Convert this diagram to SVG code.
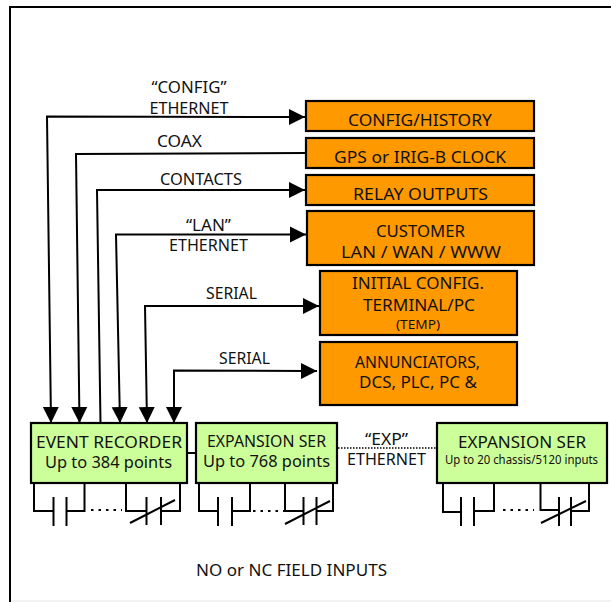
<svg xmlns="http://www.w3.org/2000/svg" width="611" height="602" viewBox="0 0 611 602">
<style>
text{font-family:"Noto Sans","DejaVu Sans",sans-serif;font-size:17px;fill:#111;text-anchor:middle}
.s{font-size:12.500px}
.o{fill:#ff9900;stroke:#000;stroke-width:2.200}
.g{fill:#ccff99;stroke:#000;stroke-width:2.200}
.c{fill:none;stroke:#000;stroke-width:2}
.d{fill:none;stroke:#000;stroke-width:2;stroke-dasharray:2.500 5}
</style>
<defs>
<marker id="a" markerUnits="userSpaceOnUse" markerWidth="17" markerHeight="17" refX="16" refY="8.500" orient="auto"><path d="M0 0.500L16 8.500L0 16.500Z" fill="#000"/></marker>
</defs>
<rect width="611" height="602" fill="#fff"/>
<path id="frame" d="M611 7H10V602" fill="none" stroke="#000" stroke-width="2"/>
<path d="M11 601H611" fill="none" stroke="#e6e6e6"/>
<g id="connectors">
<path class="c" d="M304 117L47 116.500L51 423" marker-end="url(#a)"/>
<path class="c" d="M295 117H305" marker-end="url(#a)"/>
<path class="c" d="M306 153L76 154L79.500 423" marker-end="url(#a)"/>
<path class="c" d="M295 190H97L100.500 423"/>
<path class="c" d="M295 190H305" marker-end="url(#a)"/>
<path class="c" d="M296 234.500H116L120 423" marker-end="url(#a)"/>
<path class="c" d="M296 234.500H306" marker-end="url(#a)"/>
<path class="c" d="M310 306H145L147 423" marker-end="url(#a)"/>
<path class="c" d="M309 306H319" marker-end="url(#a)"/>
<path class="c" d="M308 371L174 370.500V423" marker-end="url(#a)"/>
<path class="c" d="M307 371H317" marker-end="url(#a)"/>
<path class="c" d="M187 453H196"/>
<path fill="none" stroke="#000" stroke-width="1.500" stroke-dasharray="1.500 1.500" d="M338 448H437"/>
<path class="c" d="M34 483V511H53.500M53.500 497V526M66.500 497V526M66.500 511H84.500V483"/>
<path class="d" d="M91 510H122"/>
<path class="c" d="M126 483V511H146.500M146.500 497V525M161 497V525M161 511H180V483M130 523L175 500"/>
<path class="c" d="M199 483V511H218M218 497V526M232 497V526M232 511H250V483"/>
<path class="d" d="M253 511H284"/>
<path class="c" d="M285 483V511H303.500M303.500 497V525M316.500 497V525M316.500 511H333V483M285 524L330 501"/>
<path class="c" d="M443 483V512H461M461 497V526M474 497V526M474 511H494V483"/>
<path class="d" d="M503 510H534"/>
<path class="c" d="M540.500 483V510H559M559 497V526M571 497V526M571 511H589V483M541 523L586 501"/>
</g>
<g id="n-config"><rect class="o" x="306" y="101" width="228" height="30"/><text x="420" y="126" textLength="144" lengthAdjust="spacingAndGlyphs">CONFIG/HISTORY</text></g>
<g id="n-gps"><rect class="o" x="306" y="138" width="228" height="30"/><text x="420" y="163" textLength="172" lengthAdjust="spacingAndGlyphs">GPS or IRIG-B CLOCK</text></g>
<g id="n-relay"><rect class="o" x="306" y="175" width="228" height="30"/><text x="420.500" y="200" textLength="135" lengthAdjust="spacingAndGlyphs">RELAY OUTPUTS</text></g>
<g id="n-customer"><rect class="o" x="307" y="211" width="227" height="54"/><text x="420.500" y="237" textLength="89" lengthAdjust="spacingAndGlyphs">CUSTOMER</text><text x="421" y="258" textLength="160" lengthAdjust="spacingAndGlyphs">LAN / WAN / WWW</text></g>
<g id="n-initial"><rect class="o" x="320" y="271" width="197" height="64"/><text x="418" y="289" textLength="132" lengthAdjust="spacingAndGlyphs">INITIAL CONFIG.</text><text x="419" y="311" textLength="112" lengthAdjust="spacingAndGlyphs">TERMINAL/PC</text><text class="s" x="418" y="329" textLength="44" lengthAdjust="spacingAndGlyphs">(TEMP)</text></g>
<g id="n-annun"><rect class="o" x="320" y="342" width="197" height="63"/><text x="417.500" y="368" textLength="125" lengthAdjust="spacingAndGlyphs">ANNUNCIATORS,</text><text x="418" y="388" textLength="118" lengthAdjust="spacingAndGlyphs">DCS, PLC, PC &amp;</text></g>
<g id="n-event"><rect class="g" x="31" y="423" width="156" height="60"/><text x="109" y="448" textLength="146" lengthAdjust="spacingAndGlyphs">EVENT RECORDER</text><text x="108.500" y="468" textLength="127" lengthAdjust="spacingAndGlyphs">Up to 384 points</text></g>
<g id="n-exp1"><rect class="g" x="196" y="423" width="141" height="60"/><text x="266.500" y="447" textLength="119" lengthAdjust="spacingAndGlyphs">EXPANSION SER</text><text x="266.500" y="467" textLength="127" lengthAdjust="spacingAndGlyphs">Up to 768 points</text></g>
<g id="n-exp2"><rect class="g" x="437" y="423" width="170" height="60"/><text x="522" y="448" textLength="128" lengthAdjust="spacingAndGlyphs">EXPANSION SER</text><text class="s" x="521.500" y="464" textLength="153" lengthAdjust="spacingAndGlyphs">Up to 20 chassis/5120 inputs</text></g>
<g id="labels">
<text x="189" y="93" textLength="75" lengthAdjust="spacingAndGlyphs">“CONFIG”</text>
<text x="189" y="114" textLength="79" lengthAdjust="spacingAndGlyphs">ETHERNET</text>
<text x="179.500" y="147" textLength="45" lengthAdjust="spacingAndGlyphs">COAX</text>
<text x="201" y="185" textLength="82" lengthAdjust="spacingAndGlyphs">CONTACTS</text>
<text x="208.500" y="231" textLength="45" lengthAdjust="spacingAndGlyphs">“LAN”</text>
<text x="208.500" y="251" textLength="79" lengthAdjust="spacingAndGlyphs">ETHERNET</text>
<text x="231.500" y="299" textLength="51" lengthAdjust="spacingAndGlyphs">SERIAL</text>
<text x="244.500" y="364" textLength="51" lengthAdjust="spacingAndGlyphs">SERIAL</text>
<text x="386.500" y="445" textLength="43" lengthAdjust="spacingAndGlyphs">“EXP”</text>
<text x="386.500" y="465" textLength="79" lengthAdjust="spacingAndGlyphs">ETHERNET</text>
<text x="291.500" y="576" textLength="191" lengthAdjust="spacingAndGlyphs">NO or NC FIELD INPUTS</text>
</g>
</svg>
